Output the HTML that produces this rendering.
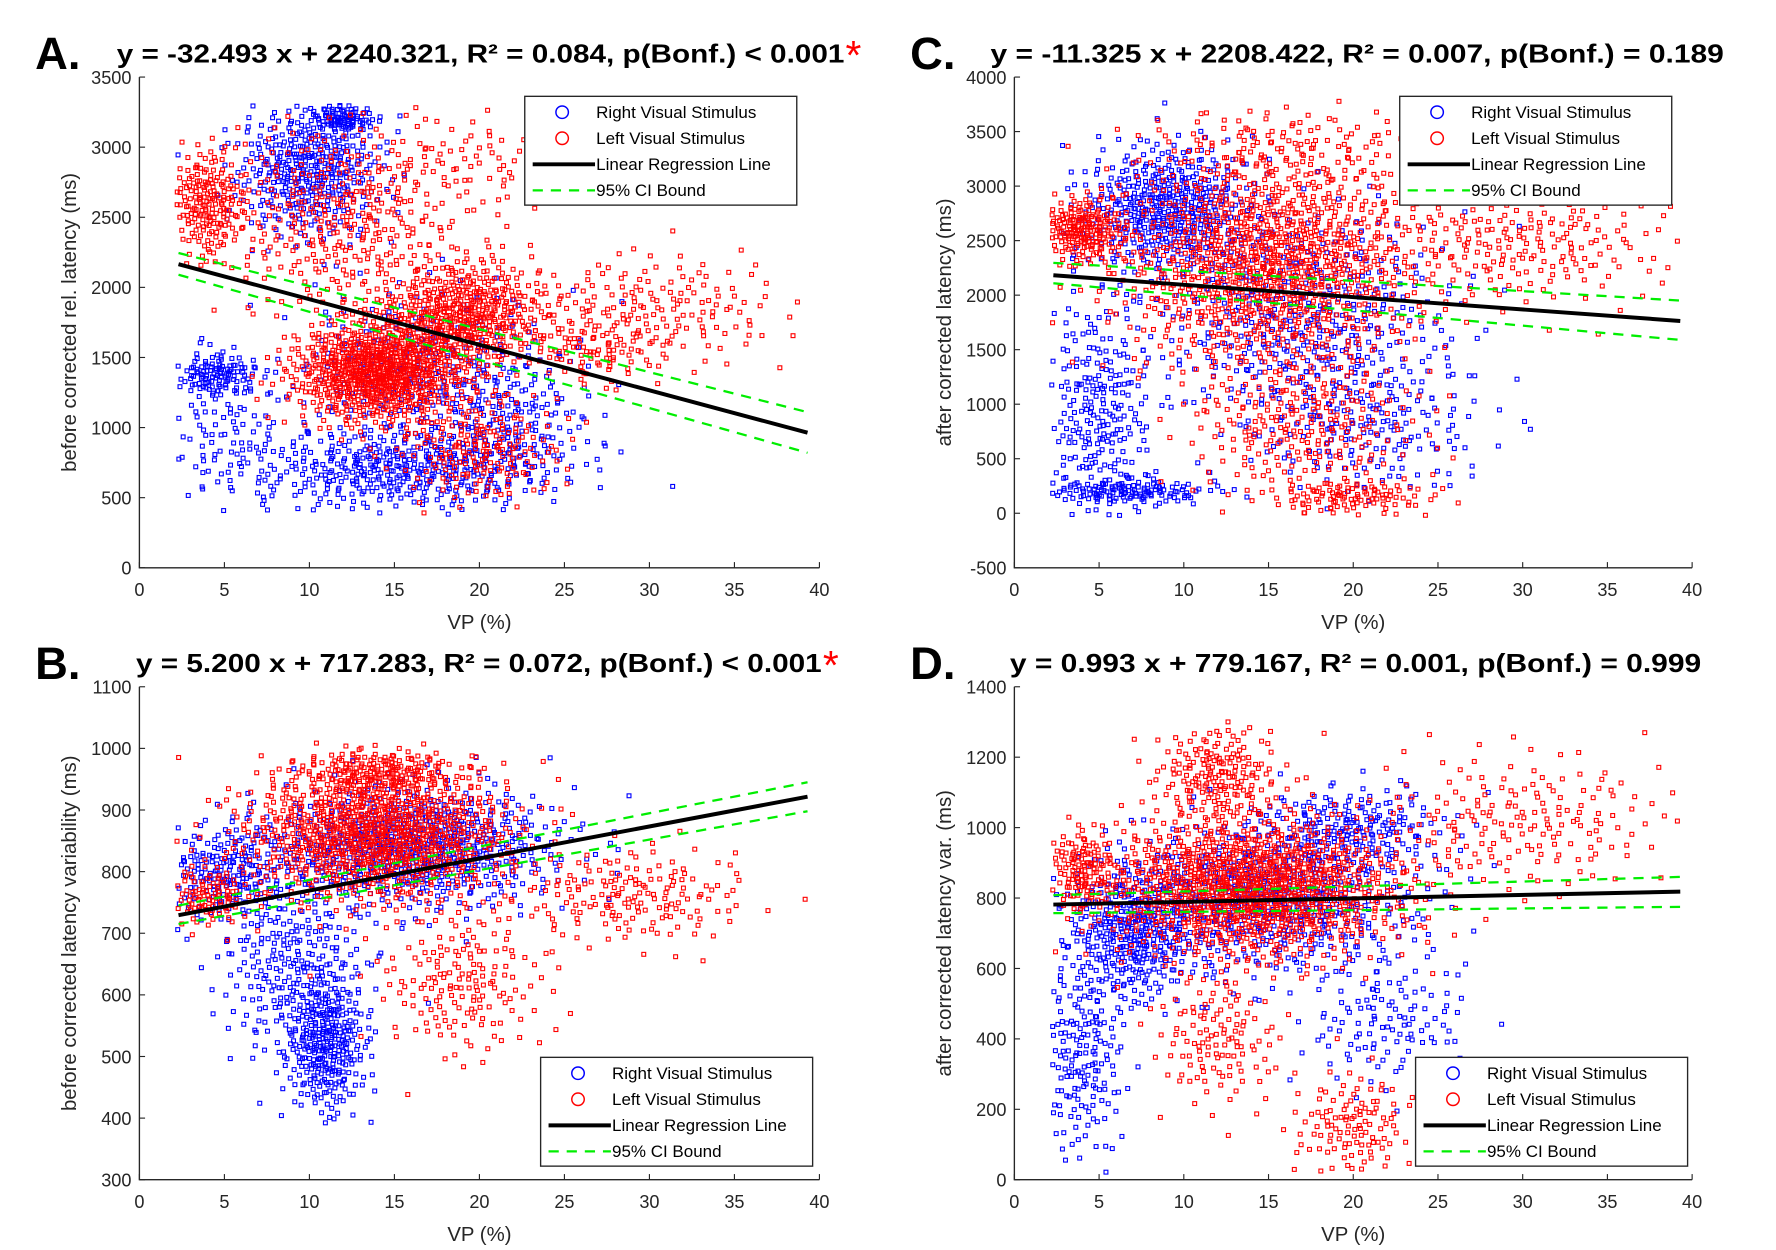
<!DOCTYPE html>
<html><head><meta charset="utf-8">
<style>
html,body{margin:0;padding:0;background:#fff;}
svg{display:block;}
text{font-family:"Liberation Sans",Arial,sans-serif;}
</style></head>
<body>
<svg id="fig" width="1776" height="1250" viewBox="0 0 1567 1103" preserveAspectRatio="none" xmlns="http://www.w3.org/2000/svg">
<rect x="0" y="0" width="1567" height="1103" fill="#fff"/>
</svg>
<script>
// ---------- data ----------
// cluster arrays: [centerVP, centerMs, spreadVP, spreadMs, count]
const blueA = [[10,2850,2.2,250,400],[12,3200,0.9,50,80],[15,700,4.5,150,400],[4.5,1380,1.2,80,100],[17,1400,4,300,300],[5,1000,1.8,300,100],[22,1000,2.5,250,150]];
const redA  = [[4,2600,1.2,200,200],[12,2500,3.5,350,350],[14,1400,2.5,180,800],[19,1800,2.5,200,500],[30,1850,4.5,200,180],[20,2900,3.5,200,80],[20,850,2.5,200,200],[27,1550,2,120,80]];
const blueC = [[9,2800,2.5,300,450],[5,900,1.6,550,250],[7,200,2.5,60,120],[17,1800,4.5,500,450],[21,800,3.5,350,180]];
const redC  = [[4,2600,1.3,150,200],[15,2300,4.5,500,1100],[17,800,3.5,350,250],[30,2500,4.5,300,220],[16,3350,4.5,200,120],[20,150,2.5,80,100]];
const blueB = [[5,800,1.8,40,180],[11,520,1.2,60,300],[9,650,2.2,80,250],[16,840,4.5,50,700]];
const redB  = [[14,860,4,55,1000],[14,960,2.5,20,180],[29,760,3.5,40,170],[19,620,2.5,60,170],[4,760,1.2,25,100]];
const blueD = [[4,350,1.3,150,180],[7,700,2,100,350],[15,800,4.5,110,600],[20,1000,2.8,60,180],[22,450,2.5,100,120]];
const redD  = [[14,830,4.5,100,1200],[12,1150,1.8,70,180],[30,1020,4.5,100,180],[20,150,1.8,80,120],[12,400,1.8,100,120],[4,880,1,60,120]];
// regression lines [slope, intercept]
const fitA = [-32.493, 2240.321];
const fitB = [5.200, 717.283];
const fitC = [-11.325, 2208.422];
const fitD = [0.993, 779.167];
// CI bounds sampled at ciX
const ciX = [2.3, 39.3];
const ciHiA = [2245, 1110], ciLoA = [2090, 820];
const ciHiB = [745, 945],   ciLoB = [715, 898];
const ciHiC = [2296, 1950], ciLoC = [2109, 1590];
const ciHiD = [808, 860],   ciLoD = [757, 775];
const xTicks = [0,5,10,15,20,25,30,35,40];
const yTicksA = [0,500,1000,1500,2000,2500,3000,3500];
const yTicksB = [300,400,500,600,700,800,900,1000,1100];
const yTicksC = [-500,0,500,1000,1500,2000,2500,3000,3500,4000];
const yTicksD = [0,200,400,600,800,1000,1200,1400];
const titles = {
 A:"y = -32.493 x + 2240.321, R² = 0.084, p(Bonf.) < 0.001",
 B:"y = 5.200 x + 717.283, R² = 0.072, p(Bonf.) < 0.001",
 C:"y = -11.325 x + 2208.422, R² = 0.007, p(Bonf.) = 0.189",
 D:"y = 0.993 x + 779.167, R² = 0.001, p(Bonf.) = 0.999"};

const NS="http://www.w3.org/2000/svg";
const svg=document.getElementById('fig');
function mk(tag,attrs,parent){const e=document.createElementNS(NS,tag);for(const k in attrs)e.setAttribute(k,attrs[k]);(parent||svg).appendChild(e);return e;}
function halton(i,b){let f=1,r=0;while(i>0){f/=b;r+=f*(i%b);i=Math.floor(i/b);}return r;}

function panel(cfg){
  const g=mk('g',{});
  
  
  const sx=v=>cfg.x0+(v-0)/40*(cfg.x1-cfg.x0);
  const sy=v=>cfg.yb-(v-cfg.ymin)/(cfg.ymax-cfg.ymin)*(cfg.yb-cfg.yt);
  [[cfg.blue,'#0000ff','blue-points'],[cfg.red,'#ff0000','red-points']].forEach(([cl,col,nm],si)=>{
    const pg=mk('g',{fill:'none',stroke:col,'stroke-width':1},g);
    
    
    let idx=1+si*7919;
    cl.forEach(c=>{
      for(let k=0;k<c[4];k++){
        idx++;
        const u1=Math.max(halton(idx,2),1e-4),u2=halton(idx,3);
        const r=Math.sqrt(-2*Math.log(u1));
        const vx=c[0]+c[2]*r*Math.cos(2*Math.PI*u2);
        const vy=c[1]+c[3]*r*Math.sin(2*Math.PI*u2);
        if(vx<2.2||vx>39.5||vy<cfg.clip[0]||vy>cfg.clip[1])continue;
        const p=mk('rect',{x:(sx(vx)-1.7).toFixed(1),y:(sy(vy)-1.7).toFixed(1),width:3.4,height:3.4},pg);
        
        
      }
    });
  });
  [cfg.ciHi,cfg.ciLo].forEach((arr,i)=>{
    const l=mk('line',{x1:sx(ciX[0]),y1:sy(arr[0]),x2:sx(ciX[1]),y2:sy(arr[1]),stroke:'#00ee00','stroke-width':2,'stroke-dasharray':'9,7'},g);
    
    
  });
  const fl=mk('line',{x1:sx(ciX[0]),y1:sy(cfg.fit[0]*ciX[0]+cfg.fit[1]),x2:sx(ciX[1]),y2:sy(cfg.fit[0]*ciX[1]+cfg.fit[1]),stroke:'#000','stroke-width':3.5},g);
  
  
  const ax=mk('path',{d:`M${cfg.x0},${cfg.yt}V${cfg.yb}H${cfg.x1}`,fill:'none',stroke:'#262626','stroke-width':1.2},g);
  
  
  xTicks.forEach(t=>{
    mk('line',{x1:sx(t),x2:sx(t),y1:cfg.yb,y2:cfg.yb-5,stroke:'#262626'},g);
    const tx=mk('text',{x:sx(t),y:cfg.yb+25,'text-anchor':'middle','font-size':16,fill:'#262626'},g);
    tx.textContent=t;
    
    
  });
  cfg.yTicks.forEach(t=>{
    mk('line',{x1:cfg.x0,x2:cfg.x0+5,y1:sy(t),y2:sy(t),stroke:'#262626'},g);
    const tx=mk('text',{x:cfg.x0-7,y:sy(t)+6,'text-anchor':'end','font-size':16,fill:'#262626'},g);
    tx.textContent=t;
    
    
  });
  const xl=mk('text',{x:(cfg.x0+cfg.x1)/2,y:cfg.yb+54,'text-anchor':'middle','font-size':18,fill:'#262626'},g);
  xl.textContent='VP (%)';
  
  
  const yc=(cfg.yt+cfg.yb)/2,yx=cfg.x0-56;
  const yl=mk('text',{x:yx,y:yc,'text-anchor':'middle','font-size':18,fill:'#262626',transform:`rotate(-90 ${yx} ${yc})`},g);
  yl.textContent=cfg.ylabel;
  
  
  const tt=mk('text',{x:cfg.tx,y:cfg.ty,'font-size':23,'font-weight':'bold',fill:'#000',textLength:cfg.tlen,lengthAdjust:'spacingAndGlyphs'},g);
  tt.textContent=titles[cfg.id];
  
  
  if(cfg.star){
    const st=mk('text',{x:cfg.tx+cfg.tlen+1,y:cfg.ty+6,'font-size':36,fill:'#ff0000'},g);
    st.textContent='*';
    
    
  }
  const lb=mk('text',{x:cfg.lx,y:cfg.ty+6,'font-size':40,'font-weight':'bold',fill:'#000'},g);
  lb.textContent=cfg.id+'.';
  
  
  const lg=mk('g',{},g);
  
  
  const L=cfg.leg;
  mk('rect',{x:L[0],y:L[1],width:240,height:96,fill:'#fff',stroke:'#262626','stroke-width':1.2},lg);
  const names=['Right Visual Stimulus','Left Visual Stimulus','Linear Regression Line','95% CI Bound'];
  names.forEach((n,i)=>{
    const yy=L[1]+14+i*23;
    if(i<2)mk('circle',{cx:L[0]+33,cy:yy,r:5.5,fill:'none',stroke:i?'#f00':'#00f','stroke-width':1.3},lg);
    else if(i==2)mk('line',{x1:L[0]+7,x2:L[0]+62,y1:yy,y2:yy,stroke:'#000','stroke-width':3.5},lg);
    else mk('line',{x1:L[0]+7,x2:L[0]+62,y1:yy,y2:yy,stroke:'#00ee00','stroke-width':2,'stroke-dasharray':'9,7'},lg);
    const t=mk('text',{x:L[0]+63,y:yy+5,'font-size':15,fill:'#000'},lg);
    t.textContent=n;
    
    
  });
}
panel({id:'A',x0:123,x1:723,yb:501,yt:68,ymin:0,ymax:3500,clip:[380,3300],yTicks:yTicksA,blue:blueA,red:redA,fit:fitA,ciHi:ciHiA,ciLo:ciLoA,ylabel:'before corrected rel. latency (ms)',tx:103,ty:55,tlen:642,star:true,lx:31,leg:[463,85]});
panel({id:'C',x0:895,x1:1493,yb:501,yt:68,ymin:-500,ymax:4000,clip:[-20,3780],yTicks:yTicksC,blue:blueC,red:redC,fit:fitC,ciHi:ciHiC,ciLo:ciLoC,ylabel:'after corrected latency (ms)',tx:874,ty:55,tlen:647,star:false,lx:803,leg:[1235,85]});
panel({id:'B',x0:123,x1:723,yb:1041,yt:606,ymin:300,ymax:1100,clip:[385,1010],yTicks:yTicksB,blue:blueB,red:redB,fit:fitB,ciHi:ciHiB,ciLo:ciLoB,ylabel:'before corrected latency variability (ms)',tx:120,ty:593,tlen:605,star:true,lx:31,leg:[477,933]});
panel({id:'D',x0:895,x1:1493,yb:1041,yt:606,ymin:0,ymax:1400,clip:[20,1310],yTicks:yTicksD,blue:blueD,red:redD,fit:fitD,ciHi:ciHiD,ciLo:ciLoD,ylabel:'after corrected latency var. (ms)',tx:891,ty:593,tlen:610,star:false,lx:803,leg:[1249,933]});
</script>
</body></html>
